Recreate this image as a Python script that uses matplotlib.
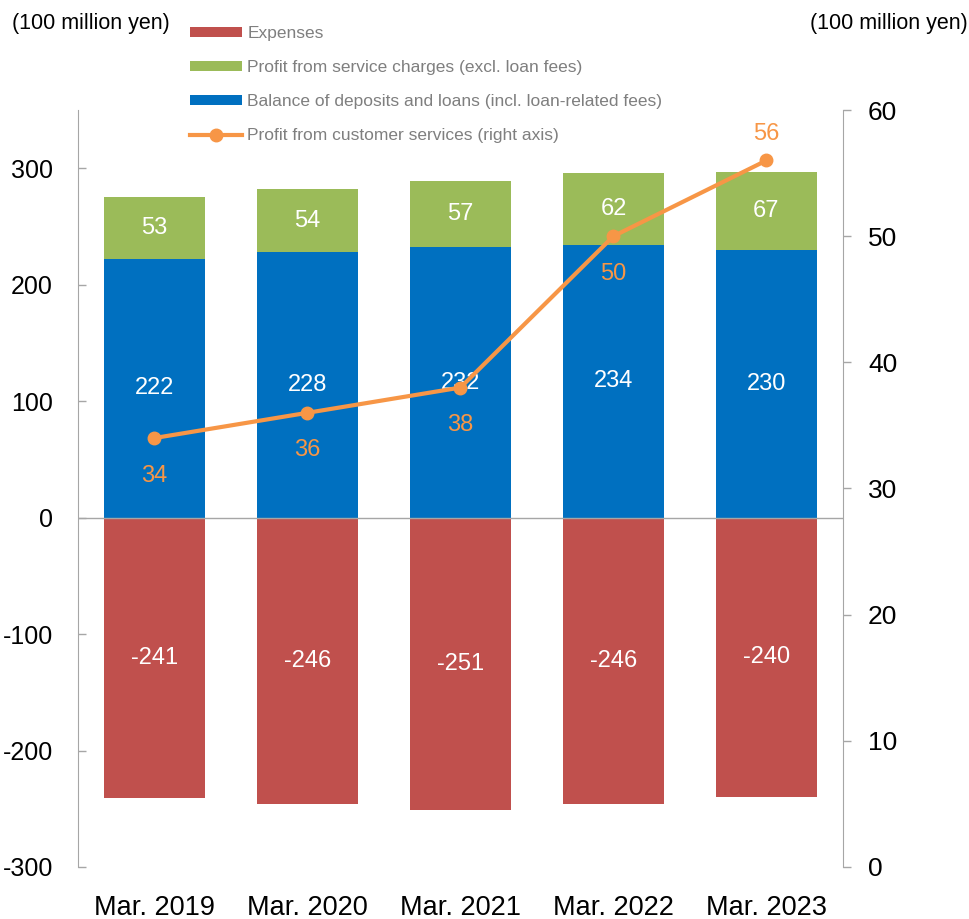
import matplotlib.pyplot as plt
import numpy as np

categories = ["Mar. 2019", "Mar. 2020", "Mar. 2021", "Mar. 2022", "Mar. 2023"]
expenses = [-241, -246, -251, -246, -240]
service_charges = [53, 54, 57, 62, 67]
deposits_loans = [222, 228, 232, 234, 230]
customer_profit = [34, 36, 38, 50, 56]

RED = "#C0504D"
GREEN = "#9BBB59"
BLUE = "#0070C0"
ORANGE = "#F79646"
AXIS_GRAY = "#A6A6A6"

plt.rcParams["font.family"] = ["Liberation Sans", "DejaVu Sans"]
plt.rcParams["axes.unicode_minus"] = False

fig = plt.figure(figsize=(9.7, 9.19), dpi=100)
ax = fig.add_axes([0.0804, 0.0566, 0.7886, 0.8237])
ax2 = ax.twinx()

x = np.arange(len(categories))
width = 0.66

b_exp = ax.bar(x, expenses, width, color=RED, zorder=2)
b_dep = ax.bar(x, deposits_loans, width, color=BLUE, zorder=2)
b_svc = ax.bar(x, service_charges, width, bottom=deposits_loans, color=GREEN, zorder=2)
ax.axhline(0, color=AXIS_GRAY, linewidth=1, zorder=3)

# white labels centred in each segment
for xi, e, d, s in zip(x, expenses, deposits_loans, service_charges):
    ax.text(xi, e / 2, f"{e}", ha="center", va="center", color="white", fontsize=17, zorder=6)
    ax.text(xi, d / 2, f"{d}", ha="center", va="center", color="white", fontsize=17, zorder=6)
    ax.text(xi, d + s / 2, f"{s}", ha="center", va="center", color="white", fontsize=17, zorder=6)

ax.set_xlim(-0.5, len(categories) - 0.5)
ax.set_ylim(-300, 350)
ax.set_yticks([-300, -200, -100, 0, 100, 200, 300])
ax.set_xticks(x)
ax.set_xticklabels(categories)
ax.tick_params(axis="x", length=0, pad=20, labelsize=19.5)
ax.tick_params(axis="y", direction="in", length=6, width=1, color=AXIS_GRAY,
               pad=18, labelsize=18)

line, = ax2.plot(x, customer_profit, color=ORANGE, linewidth=3, marker="o",
                 markersize=9, zorder=4)
ax2.set_ylim(0, 60)
ax2.set_yticks(range(0, 61, 10))
ax2.tick_params(axis="y", direction="out", length=6, width=1, color=AXIS_GRAY,
                pad=12, labelsize=19)

for i, v in enumerate(customer_profit):
    dy = 19 if i == len(customer_profit) - 1 else -27
    ax2.annotate(f"{v}", (x[i], v), xytext=(0, dy), textcoords="offset points",
                 ha="center", va="center", color=ORANGE, fontsize=17, zorder=6)

for a in (ax, ax2):
    for side in ("top", "bottom"):
        a.spines[side].set_visible(False)
    a.spines["left"].set_color(AXIS_GRAY)
    a.spines["right"].set_color(AXIS_GRAY)
ax.spines["right"].set_visible(False)
ax2.spines["left"].set_visible(False)
ax2.set_zorder(ax.get_zorder() + 1)
ax2.patch.set_visible(False)

fig.text(0.012, 0.974, "(100 million yen)", fontsize=15.5, ha="left", va="center")
fig.text(0.998, 0.974, "(100 million yen)", fontsize=15.5, ha="right", va="center")

leg = fig.legend([b_exp, b_svc, b_dep, line],
                 ["Expenses", "Profit from service charges (excl. loan fees)",
                  "Balance of deposits and loans (incl. loan-related fees)",
                  "Profit from customer services (right axis)"],
                 loc="upper left", bbox_to_anchor=(0.196, 0.9715), frameon=False,
                 fontsize=12.5, handlelength=3.0, handleheight=0.55,
                 handletextpad=0.3, labelspacing=1.1, borderpad=0, borderaxespad=0)
for t in leg.get_texts():
    t.set_color("#7F7F7F")

fig.savefig("out.png", dpi=100)
